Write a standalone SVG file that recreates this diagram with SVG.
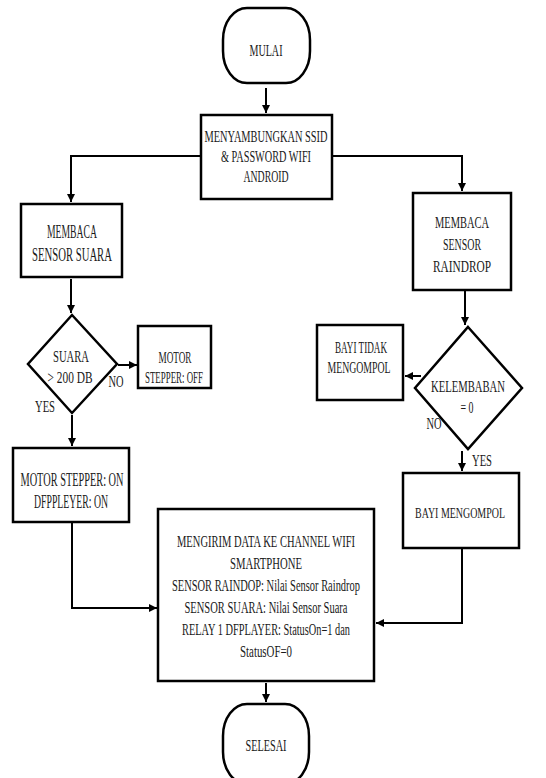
<svg xmlns="http://www.w3.org/2000/svg" width="546" height="778" viewBox="0 0 546 778">
<defs>
<style>
.box{fill:#fff;stroke:#000;stroke-width:2.5}
.ln{fill:none;stroke:#000;stroke-width:2}
text{font-family:"Liberation Serif","Times New Roman",serif;font-size:16px;fill:#1a1a1a;text-anchor:middle}
.lg{font-size:18px}
.md{font-size:17px}
.sm{font-size:15px}
</style>
<marker id="ah" viewBox="0 0 10 10" refX="10" refY="5" markerWidth="4" markerHeight="4" orient="auto" markerUnits="strokeWidth">
<path d="M0,0 L10,5 L0,10 Z" fill="#000"/>
</marker>
</defs>
<rect width="546" height="778" fill="#fff"/>

<g id="connectors">
<line class="ln" x1="266" y1="88" x2="266" y2="113" marker-end="url(#ah)"/>
<polyline class="ln" points="201,156 71,156 71,202" marker-end="url(#ah)"/>
<polyline class="ln" points="332,156 462,156 462,191" marker-end="url(#ah)"/>
<line class="ln" x1="71" y1="279" x2="71" y2="313" marker-end="url(#ah)"/>
<line class="ln" x1="118" y1="365" x2="137" y2="365" marker-end="url(#ah)"/>
<line class="ln" x1="72" y1="415" x2="72" y2="446" marker-end="url(#ah)"/>
<polyline class="ln" points="72,523 72,608 157,608" marker-end="url(#ah)"/>
<line class="ln" x1="465" y1="291" x2="465" y2="325" marker-end="url(#ah)"/>
<line class="ln" x1="421" y1="376" x2="405" y2="376" marker-end="url(#ah)"/>
<line class="ln" x1="462" y1="451" x2="462" y2="471" marker-end="url(#ah)"/>
<polyline class="ln" points="462,549 462,623 376,623" marker-end="url(#ah)"/>
<line class="ln" x1="266" y1="683" x2="266" y2="702" marker-end="url(#ah)"/>
</g>

<g id="mulai">
<rect class="box" x="223" y="8" width="87" height="75" rx="24" ry="32"/>
<text class="md" x="266" y="56" textLength="33" lengthAdjust="spacingAndGlyphs">MULAI</text>
</g>

<g id="connect-wifi">
<rect class="box" x="201" y="115" width="131" height="84"/>
<text x="266" y="142" textLength="123" lengthAdjust="spacingAndGlyphs">MENYAMBUNGKAN SSID</text>
<text x="266" y="162" textLength="90" lengthAdjust="spacingAndGlyphs">&amp; PASSWORD WIFI</text>
<text x="266" y="182" textLength="45" lengthAdjust="spacingAndGlyphs">ANDROID</text>
</g>

<g id="read-sound">
<rect class="box" x="21" y="204" width="101" height="73"/>
<text class="lg" x="72" y="238" textLength="50" lengthAdjust="spacingAndGlyphs">MEMBACA</text>
<text class="lg" x="72" y="261" textLength="80" lengthAdjust="spacingAndGlyphs">SENSOR SUARA</text>
</g>

<g id="read-raindrop">
<rect class="box" x="413" y="193" width="98" height="97"/>
<text class="md" x="462" y="228" textLength="54" lengthAdjust="spacingAndGlyphs">MEMBACA</text>
<text class="md" x="462" y="250" textLength="38" lengthAdjust="spacingAndGlyphs">SENSOR</text>
<text class="md" x="462" y="272" textLength="58" lengthAdjust="spacingAndGlyphs">RAINDROP</text>
</g>

<g id="sound-decision">
<polygon class="box" points="72,315 117,364 72,413 28,364"/>
<text x="71" y="362" textLength="36" lengthAdjust="spacingAndGlyphs">SUARA</text>
<text x="70" y="383" textLength="45" lengthAdjust="spacingAndGlyphs">&gt; 200 DB</text>
</g>

<g id="stepper-off">
<rect class="box" x="138" y="326" width="73" height="62"/>
<text x="175" y="363" textLength="33" lengthAdjust="spacingAndGlyphs">MOTOR</text>
<text x="174" y="383" textLength="58" lengthAdjust="spacingAndGlyphs">STEPPER: OFF</text>
</g>

<g id="labels">
<text x="116" y="387" textLength="15" lengthAdjust="spacingAndGlyphs">NO</text>
<text x="45" y="412" textLength="20" lengthAdjust="spacingAndGlyphs">YES</text>
<text x="434" y="429" textLength="15" lengthAdjust="spacingAndGlyphs">NO</text>
<text x="482" y="466" textLength="20" lengthAdjust="spacingAndGlyphs">YES</text>
</g>

<g id="stepper-on">
<rect class="box" x="13" y="448" width="116" height="74"/>
<text class="lg" x="72" y="486" textLength="103" lengthAdjust="spacingAndGlyphs">MOTOR STEPPER: ON</text>
<text class="lg" x="71" y="508" textLength="74" lengthAdjust="spacingAndGlyphs">DFPPLEYER: ON</text>
</g>

<g id="humidity-decision">
<polygon class="box" points="468,327 522,388 468,449 415,388"/>
<text x="468" y="392" textLength="74" lengthAdjust="spacingAndGlyphs">KELEMBABAN</text>
<text x="467" y="413" textLength="13" lengthAdjust="spacingAndGlyphs">= 0</text>
</g>

<g id="not-wet">
<rect class="box" x="317" y="325" width="86" height="75"/>
<text x="361" y="353" textLength="52" lengthAdjust="spacingAndGlyphs">BAYI TIDAK</text>
<text x="359" y="373" textLength="63" lengthAdjust="spacingAndGlyphs">MENGOMPOL</text>
</g>

<g id="wet">
<rect class="box" x="403" y="473" width="116" height="75"/>
<text class="sm" x="460" y="518" textLength="90" lengthAdjust="spacingAndGlyphs">BAYI MENGOMPOL</text>
</g>

<g id="send-data">
<rect class="box" x="158" y="509" width="216" height="172"/>
<text class="md" x="266" y="547" textLength="178" lengthAdjust="spacingAndGlyphs">MENGIRIM DATA KE CHANNEL WIFI</text>
<text class="md" x="266" y="569" textLength="72" lengthAdjust="spacingAndGlyphs">SMARTPHONE</text>
<text class="md" x="266" y="591" textLength="188" lengthAdjust="spacingAndGlyphs">SENSOR RAINDOP: Nilai Sensor Raindrop</text>
<text class="md" x="266" y="613" textLength="163" lengthAdjust="spacingAndGlyphs">SENSOR SUARA: Nilai Sensor Suara</text>
<text class="md" x="266" y="635" textLength="168" lengthAdjust="spacingAndGlyphs">RELAY 1 DFPLAYER: StatusOn=1 dan</text>
<text class="md" x="266" y="657" textLength="52" lengthAdjust="spacingAndGlyphs">StatusOF=0</text>
</g>

<g id="selesai">
<rect class="box" x="223" y="704" width="86" height="80" rx="24" ry="32"/>
<text class="md" x="266" y="751" textLength="41" lengthAdjust="spacingAndGlyphs">SELESAI</text>
</g>
</svg>
